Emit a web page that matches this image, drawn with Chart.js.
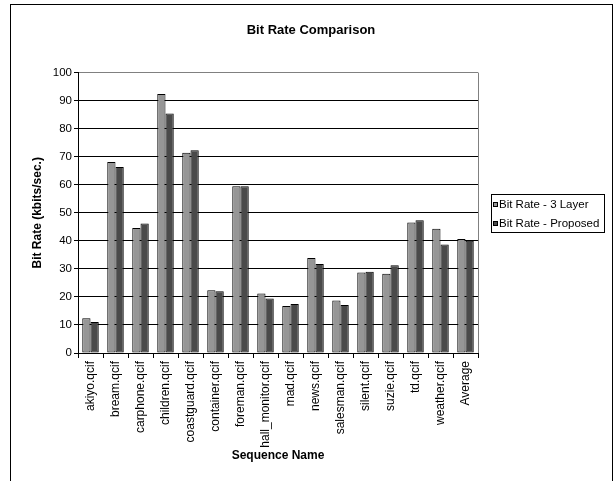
<!DOCTYPE html>
<html>
<head>
<meta charset="utf-8">
<title>Bit Rate Comparison</title>
<script src="https://cdn.jsdelivr.net/npm/chart.js@4/dist/chart.umd.min.js"></script>
<style>
  html, body { margin: 0; padding: 0; background: #fff; }
  #wrap { width: 616px; height: 481px; }
</style>
</head>
<body>
<div id="wrap"><canvas id="chart" width="616" height="481"></canvas></div>
<script>
// Sequences and measured bit rates (kbits/sec.)
const categories = [
  'akiyo.qcif', 'bream.qcif', 'carphone.qcif', 'children.qcif', 'coastguard.qcif',
  'container.qcif', 'foreman.qcif', 'hall_monitor.qcif', 'mad.qcif', 'news.qcif',
  'salesman.qcif', 'silent.qcif', 'suzie.qcif', 'td.qcif', 'weather.qcif', 'Average'
];
const seriesNames = ['Bit Rate - 3 Layer', 'Bit Rate - Proposed'];
const rate3Layer = [12.4, 68.1, 44.6, 92.4, 71.4, 22.4, 59.5, 21.2, 16.8, 33.9, 18.7, 28.7, 28.3, 46.5, 44.3, 40.7];
const rateProposed = [11.1, 66.3, 46.2, 85.4, 72.3, 22.0, 59.5, 19.4, 17.5, 31.7, 17.1, 29.0, 31.3, 47.3, 38.7, 40.0];
const yTickValues = [0, 10, 20, 30, 40, 50, 60, 70, 80, 90, 100];

const FONT = '"Liberation Sans", Arial, Helvetica, sans-serif';
const COLORS = ['#969696', '#4a4a4a'];

// Outer chart frame and the plot area's right edge
const framePlugin = {
  id: 'frame',
  afterDraw(chart) {
    const { ctx, chartArea } = chart;
    ctx.save();
    ctx.strokeStyle = '#000';
    ctx.lineWidth = 1;
    ctx.strokeRect(10.5, 4.5, 602, 600);
    ctx.strokeStyle = '#808080';
    ctx.beginPath();
    ctx.moveTo(Math.round(chartArea.right) + 0.5, chartArea.top);
    ctx.lineTo(Math.round(chartArea.right) + 0.5, chartArea.bottom);
    ctx.stroke();
    ctx.restore();
  }
};

// Boxed legend to the right of the plot, vertically centred on it
const boxedLegend = {
  id: 'boxedLegend',
  afterDraw(chart) {
    const { ctx, chartArea } = chart;
    const rowH = 18.5;
    const w = 113, h = 38;
    const x = Math.round(chartArea.right) + 13;
    const y = Math.round((chartArea.top + chartArea.bottom) / 2 - h / 2);
    ctx.save();
    ctx.fillStyle = '#fff';
    ctx.fillRect(x, y, w, h);
    ctx.strokeStyle = '#000';
    ctx.lineWidth = 1;
    ctx.strokeRect(x + 0.5, y + 0.5, w, h);
    ctx.font = '11.5px ' + FONT;
    ctx.textBaseline = 'middle';
    ctx.textAlign = 'left';
    chart.data.datasets.forEach((ds, i) => {
      const cy = y + 11 + i * rowH;
      ctx.fillStyle = ds.backgroundColor;
      ctx.fillRect(x + 2, Math.round(cy) - 3, 5, 5);
      ctx.strokeStyle = '#000';
      ctx.strokeRect(x + 2.5, Math.round(cy) - 2.5, 4, 4);
      ctx.fillStyle = '#000';
      ctx.fillText(ds.label, x + 8, cy);
    });
    ctx.restore();
  }
};

new Chart(document.getElementById('chart'), {
  type: 'bar',
  data: {
    labels: categories,
    datasets: [
      {
        label: seriesNames[0],
        data: rate3Layer,
        backgroundColor: COLORS[0],
        borderColor: '#000',
        borderWidth: 1,
        borderSkipped: false
      },
      {
        label: seriesNames[1],
        data: rateProposed,
        backgroundColor: COLORS[1],
        borderColor: '#000',
        borderWidth: 1,
        borderSkipped: false
      }
    ]
  },
  options: {
    responsive: false,
    animation: false,
    devicePixelRatio: 1,
    categoryPercentage: 0.66,
    barPercentage: 1.0,
    layout: { padding: { left: 6, right: 0, top: 0, bottom: 0 } },
    plugins: {
      legend: { display: false },
      tooltip: { enabled: false },
      title: {
        display: true,
        text: 'Bit Rate Comparison',
        color: '#000',
        font: { family: FONT, size: 13, weight: 'bold', lineHeight: 1.2 },
        padding: { top: 23, bottom: 34 }
      }
    },
    scales: {
      x: {
        grid: {
          display: true,
          drawOnChartArea: false,
          drawTicks: true,
          tickLength: 5,
          offset: true,
          color: '#000',
          tickColor: '#000'
        },
        border: { display: true, color: '#000', width: 1 },
        ticks: {
          color: '#000',
          font: { family: FONT, size: 12 },
          minRotation: 90,
          maxRotation: 90,
          autoSkip: false,
          padding: 3
        },
        title: {
          display: true,
          text: 'Sequence Name',
          color: '#000',
          font: { family: FONT, size: 12, weight: 'bold', lineHeight: 1.2 },
          padding: { top: 0, bottom: 18 }
        },
        afterFit(scale) { scale.height = 128; }
      },
      y: {
        min: 0,
        max: 100,
        afterBuildTicks(scale) { scale.ticks = yTickValues.map(v => ({ value: v })); },
        grid: {
          color: ctx => (ctx.tick && ctx.tick.value === 100) ? '#808080' : '#000',
          tickColor: '#000',
          tickLength: 4,
          drawTicks: true
        },
        border: { display: true, color: '#000', width: 1 },
        ticks: {
          color: '#000',
          font: { family: FONT, size: 11.5 },
          padding: 2
        },
        title: {
          display: true,
          text: 'Bit Rate (kbits/sec.)',
          color: '#000',
          font: { family: FONT, size: 12, weight: 'bold', lineHeight: 1.2 },
          padding: { top: 24, bottom: 0 }
        },
        afterFit(scale) { scale.width = 72; }
      },
      // empty right-hand axis that reserves the room occupied by the legend
      side: {
        type: 'linear',
        position: 'right',
        display: true,
        grid: { display: false },
        border: { display: false },
        ticks: { display: false },
        afterFit(scale) { scale.width = 138; }
      }
    }
  },
  plugins: [framePlugin, boxedLegend]
});
</script>
</body>
</html>
